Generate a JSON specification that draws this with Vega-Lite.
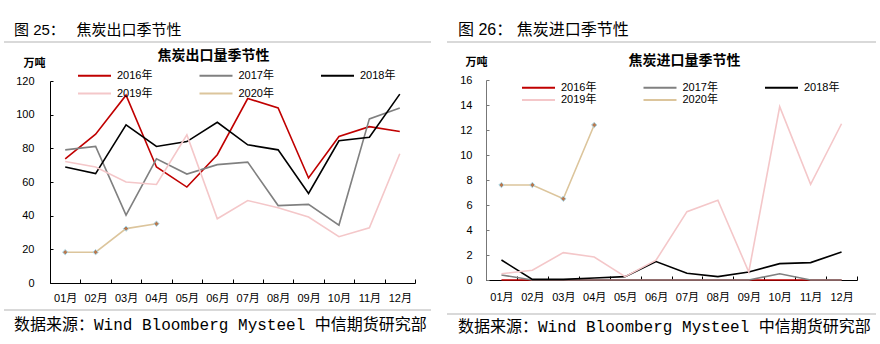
{
  "$schema": "https://vega.github.io/schema/vega-lite/v6.json",
  "background": "white",
  "padding": {"left": 3, "top": 22, "right": 0, "bottom": 0},
  "config": {
    "font": "Liberation Sans, Noto Sans CJK SC",
    "view": {"stroke": null},
    "axis": {"labelColor": "#000", "titleColor": "#000", "domainColor": "#000", "tickColor": "#000", "grid": false, "labelOverlap": false}
  },
  "resolve": {"scale": {"color": "independent", "x": "independent", "y": "independent"}, "legend": {"color": "independent"}},
  "datasets": {
    "exp": [
      {"year": "2016年", "month": "01月", "value": 73.8}, {"year": "2016年", "month": "02月", "value": 88.4}, {"year": "2016年", "month": "03月", "value": 111.6}, {"year": "2016年", "month": "04月", "value": 68.9}, {"year": "2016年", "month": "05月", "value": 57.0}, {"year": "2016年", "month": "06月", "value": 76.2}, {"year": "2016年", "month": "07月", "value": 109.6}, {"year": "2016年", "month": "08月", "value": 104.0}, {"year": "2016年", "month": "09月", "value": 62.4}, {"year": "2016年", "month": "10月", "value": 87.0}, {"year": "2016年", "month": "11月", "value": 92.9}, {"year": "2016年", "month": "12月", "value": 90.0},
      {"year": "2017年", "month": "01月", "value": 79.1}, {"year": "2017年", "month": "02月", "value": 81.1}, {"year": "2017年", "month": "03月", "value": 40.3}, {"year": "2017年", "month": "04月", "value": 73.8}, {"year": "2017年", "month": "05月", "value": 64.7}, {"year": "2017年", "month": "06月", "value": 70.3}, {"year": "2017年", "month": "07月", "value": 71.8}, {"year": "2017年", "month": "08月", "value": 46.0}, {"year": "2017年", "month": "09月", "value": 46.7}, {"year": "2017年", "month": "10月", "value": 34.4}, {"year": "2017年", "month": "11月", "value": 97.5}, {"year": "2017年", "month": "12月", "value": 104.0},
      {"year": "2018年", "month": "01月", "value": 68.9}, {"year": "2018年", "month": "02月", "value": 65.0}, {"year": "2018年", "month": "03月", "value": 93.9}, {"year": "2018年", "month": "04月", "value": 81.1}, {"year": "2018年", "month": "05月", "value": 84.0}, {"year": "2018年", "month": "06月", "value": 95.5}, {"year": "2018年", "month": "07月", "value": 82.1}, {"year": "2018年", "month": "08月", "value": 79.1}, {"year": "2018年", "month": "09月", "value": 53.2}, {"year": "2018年", "month": "10月", "value": 84.5}, {"year": "2018年", "month": "11月", "value": 86.6}, {"year": "2018年", "month": "12月", "value": 112.2},
      {"year": "2019年", "month": "01月", "value": 72.2}, {"year": "2019年", "month": "02月", "value": 68.9}, {"year": "2019年", "month": "03月", "value": 60.0}, {"year": "2019年", "month": "04月", "value": 58.5}, {"year": "2019年", "month": "05月", "value": 88.0}, {"year": "2019年", "month": "06月", "value": 38.2}, {"year": "2019年", "month": "07月", "value": 49.0}, {"year": "2019年", "month": "08月", "value": 44.7}, {"year": "2019年", "month": "09月", "value": 39.2}, {"year": "2019年", "month": "10月", "value": 27.5}, {"year": "2019年", "month": "11月", "value": 32.8}, {"year": "2019年", "month": "12月", "value": 76.8},
      {"year": "2020年", "month": "01月", "value": 18.3}, {"year": "2020年", "month": "02月", "value": 18.3}, {"year": "2020年", "month": "03月", "value": 32.3}, {"year": "2020年", "month": "04月", "value": 35.2}
    ],
    "imp": [
      {"year": "2016年", "month": "01月", "value": 0}, {"year": "2016年", "month": "02月", "value": 0}, {"year": "2016年", "month": "03月", "value": 0}, {"year": "2016年", "month": "04月", "value": 0}, {"year": "2016年", "month": "05月", "value": 0}, {"year": "2016年", "month": "06月", "value": 0}, {"year": "2016年", "month": "07月", "value": 0}, {"year": "2016年", "month": "08月", "value": 0}, {"year": "2016年", "month": "09月", "value": 0}, {"year": "2016年", "month": "10月", "value": 0}, {"year": "2016年", "month": "11月", "value": 0}, {"year": "2016年", "month": "12月", "value": 0},
      {"year": "2017年", "month": "01月", "value": 0.4}, {"year": "2017年", "month": "02月", "value": 0}, {"year": "2017年", "month": "03月", "value": 0}, {"year": "2017年", "month": "04月", "value": 0}, {"year": "2017年", "month": "05月", "value": 0}, {"year": "2017年", "month": "06月", "value": 0}, {"year": "2017年", "month": "07月", "value": 0}, {"year": "2017年", "month": "08月", "value": 0}, {"year": "2017年", "month": "09月", "value": 0}, {"year": "2017年", "month": "10月", "value": 0.5}, {"year": "2017年", "month": "11月", "value": 0}, {"year": "2017年", "month": "12月", "value": 0},
      {"year": "2018年", "month": "01月", "value": 1.6}, {"year": "2018年", "month": "02月", "value": 0.05}, {"year": "2018年", "month": "03月", "value": 0.05}, {"year": "2018年", "month": "04月", "value": 0.16}, {"year": "2018年", "month": "05月", "value": 0.27}, {"year": "2018年", "month": "06月", "value": 1.47}, {"year": "2018年", "month": "07月", "value": 0.54}, {"year": "2018年", "month": "08月", "value": 0.27}, {"year": "2018年", "month": "09月", "value": 0.64}, {"year": "2018年", "month": "10月", "value": 1.31}, {"year": "2018年", "month": "11月", "value": 1.39}, {"year": "2018年", "month": "12月", "value": 2.24},
      {"year": "2019年", "month": "01月", "value": 0.5}, {"year": "2019年", "month": "02月", "value": 0.78}, {"year": "2019年", "month": "03月", "value": 2.19}, {"year": "2019年", "month": "04月", "value": 1.84}, {"year": "2019年", "month": "05月", "value": 0.27}, {"year": "2019年", "month": "06月", "value": 1.58}, {"year": "2019年", "month": "07月", "value": 5.47}, {"year": "2019年", "month": "08月", "value": 6.38}, {"year": "2019年", "month": "09月", "value": 0.64}, {"year": "2019年", "month": "10月", "value": 13.87}, {"year": "2019年", "month": "11月", "value": 7.66}, {"year": "2019年", "month": "12月", "value": 12.5},
      {"year": "2020年", "month": "01月", "value": 7.6}, {"year": "2020年", "month": "02月", "value": 7.6}, {"year": "2020年", "month": "03月", "value": 6.5}, {"year": "2020年", "month": "04月", "value": 12.4}
    ]
  },
  "hconcat": [
    {
      "spacing": 6,
      "resolve": {"scale": {"color": "independent", "x": "independent", "y": "independent"}, "legend": {"color": "independent"}},
      "vconcat": [
        {
          "width": 365, "height": 2,
          "title": {"text": "图  25：　 焦炭出口季节性", "anchor": "start", "frame": "group", "fontSize": 15, "fontWeight": "normal", "color": "#000", "offset": 3, "dx": -36},
          "data": {"values": [{}]},
          "mark": {"type": "rect", "color": "#d9d9d9"},
          "encoding": {
            "x": {"datum": -0.12603, "type": "quantitative", "scale": {"domain": [0, 1], "nice": false, "zero": false}, "axis": null},
            "x2": {"datum": 1.04384},
            "y": {"datum": 0, "type": "quantitative", "scale": {"domain": [0, 1], "nice": false}, "axis": null},
            "y2": {"datum": 1}
          }
        },
        {
          "width": 365, "height": 202,
          "title": {"text": "焦炭出口量季节性", "frame": "group", "anchor": "middle", "fontSize": 14, "fontWeight": "bold", "color": "#000", "dx": -19, "offset": -6},
          "data": {"name": "exp"},
          "encoding": {
            "x": {"field": "month", "type": "nominal", "scale": {"type": "band", "paddingInner": 0, "paddingOuter": 0, "domain": ["01月","02月","03月","04月","05月","06月","07月","08月","09月","10月","11月","12月"]}, "axis": {"title": null, "labelAngle": 0, "labelFontSize": 11, "tickBand": "extent", "tickSize": -4, "labelPadding": 13}},
            "y": {"field": "value", "type": "quantitative", "scale": {"domain": [0, 120]}, "axis": {"values": [0,20,40,60,80,100,120], "labelOverlap": false, "title": "万吨", "titleAngle": 0, "titleAlign": "left", "titleBaseline": "middle", "titleX": -27, "titleY": -18, "titleFontSize": 11, "titleFontWeight": "bold", "labelFontSize": 11, "tickSize": -3, "labelPadding": 19}}
          },
          "layer": [
            {
              "mark": {"type": "line", "strokeWidth": 1.6},
              "encoding": {
                "color": {"field": "year", "type": "nominal", "scale": {"domain": ["2016年","2017年","2018年","2019年","2020年"], "range": ["#c00000","#808080","#000000","#f4c7c9","#dcc59c"]}, "legend": {"orient": "none", "legendX": -4, "legendY": -12, "direction": "horizontal", "columns": 3, "title": null, "symbolType": "M4.636,0H10.636", "symbolSize": 121, "symbolStrokeWidth": 2, "labelOffset": 58, "columnPadding": 14.5, "rowPadding": 6, "labelFontSize": 11, "labelColor": "#000", "gridAlign": "all"}}
              }
            },
            {
              "transform": [{"filter": "datum.year === '2020年'"}],
              "mark": {"type": "point", "shape": "diamond", "filled": true, "size": 28, "fill": "#b9794f", "stroke": "#a8d8ea", "strokeWidth": 1, "opacity": 1}
            }
          ]
        },
        {
          "width": 365, "height": 2,
          "title": {"text": "数据来源：Wind Bloomberg Mysteel 中信期货研究部", "orient": "bottom", "anchor": "start", "frame": "group", "font": "Liberation Mono, Noto Sans CJK SC", "fontSize": 16, "fontWeight": "normal", "color": "#000", "offset": 6, "dx": -36},
          "data": {"values": [{}]},
          "mark": {"type": "rect", "color": "#d9d9d9"},
          "encoding": {
            "x": {"datum": -0.12603, "type": "quantitative", "scale": {"domain": [0, 1], "nice": false, "zero": false}, "axis": null},
            "x2": {"datum": 1.04384},
            "y": {"datum": 0, "type": "quantitative", "scale": {"domain": [0, 1], "nice": false}, "axis": null},
            "y2": {"datum": 1}
          }
        }
      ]
    },
    {
      "spacing": 11,
      "resolve": {"scale": {"color": "independent", "x": "independent", "y": "independent"}, "legend": {"color": "independent"}},
      "vconcat": [
        {
          "width": 371, "height": 2,
          "title": {"text": "图  26：   焦炭进口季节性", "anchor": "start", "frame": "group", "fontSize": 16, "fontWeight": "normal", "color": "#000", "offset": 2, "dx": -28, "dy": -1},
          "data": {"values": [{}]},
          "mark": {"type": "rect", "color": "#d9d9d9"},
          "encoding": {
            "x": {"datum": -0.10512, "type": "quantitative", "scale": {"domain": [0, 1], "nice": false, "zero": false}, "axis": null},
            "x2": {"datum": 1.05121},
            "y": {"datum": 0, "type": "quantitative", "scale": {"domain": [0, 1], "nice": false}, "axis": null},
            "y2": {"datum": 1}
          }
        },
        {
          "width": 371, "height": 200,
          "title": {"text": "焦炭进口量季节性", "frame": "group", "anchor": "middle", "fontSize": 14, "fontWeight": "bold", "color": "#000", "dx": 13, "offset": -12},
          "data": {"name": "imp"},
          "encoding": {
            "x": {"field": "month", "type": "nominal", "scale": {"type": "band", "paddingInner": 0, "paddingOuter": 0, "domain": ["01月","02月","03月","04月","05月","06月","07月","08月","09月","10月","11月","12月"]}, "axis": {"title": null, "labelAngle": 0, "labelFontSize": 11, "tickBand": "extent", "tickSize": -4, "labelPadding": 15}},
            "y": {"field": "value", "type": "quantitative", "scale": {"domain": [0, 16]}, "axis": {"values": [0,2,4,6,8,10,12,14,16], "labelOverlap": false, "title": "万吨", "titleAngle": 0, "titleAlign": "left", "titleBaseline": "middle", "titleX": -21, "titleY": -18, "titleFontSize": 11, "titleFontWeight": "bold", "labelFontSize": 11, "tickSize": -3, "labelPadding": 17, "domainColor": "#777777", "tickColor": "#777777"}}
          },
          "layer": [
            {
              "mark": {"type": "line", "strokeWidth": 1.6},
              "encoding": {
                "color": {"field": "year", "type": "nominal", "scale": {"domain": ["2016年","2017年","2018年","2019年","2020年"], "range": ["#c00000","#808080","#000000","#f4c7c9","#dcc59c"]}, "legend": {"orient": "none", "legendX": 4, "legendY": 1, "direction": "horizontal", "columns": 3, "title": null, "symbolType": "M4.636,0H10.636", "symbolSize": 121, "symbolStrokeWidth": 2, "labelOffset": 58, "columnPadding": 14.5, "rowPadding": 0.5, "labelFontSize": 11, "labelColor": "#000", "gridAlign": "all"}}
              }
            },
            {
              "transform": [{"filter": "datum.year === '2020年'"}],
              "mark": {"type": "point", "shape": "diamond", "filled": true, "size": 28, "fill": "#b9794f", "stroke": "#a8d8ea", "strokeWidth": 1, "opacity": 1}
            }
          ]
        },
        {
          "width": 371, "height": 2,
          "title": {"text": "数据来源：Wind Bloomberg Mysteel 中信期货研究部", "orient": "bottom", "anchor": "start", "frame": "group", "font": "Liberation Mono, Noto Sans CJK SC", "fontSize": 16, "fontWeight": "normal", "color": "#000", "offset": 4, "dx": -28},
          "data": {"values": [{}]},
          "mark": {"type": "rect", "color": "#d9d9d9"},
          "encoding": {
            "x": {"datum": -0.10512, "type": "quantitative", "scale": {"domain": [0, 1], "nice": false, "zero": false}, "axis": null},
            "x2": {"datum": 1.05121},
            "y": {"datum": 0, "type": "quantitative", "scale": {"domain": [0, 1], "nice": false}, "axis": null},
            "y2": {"datum": 1}
          }
        }
      ]
    }
  ],
  "spacing": 15
}
